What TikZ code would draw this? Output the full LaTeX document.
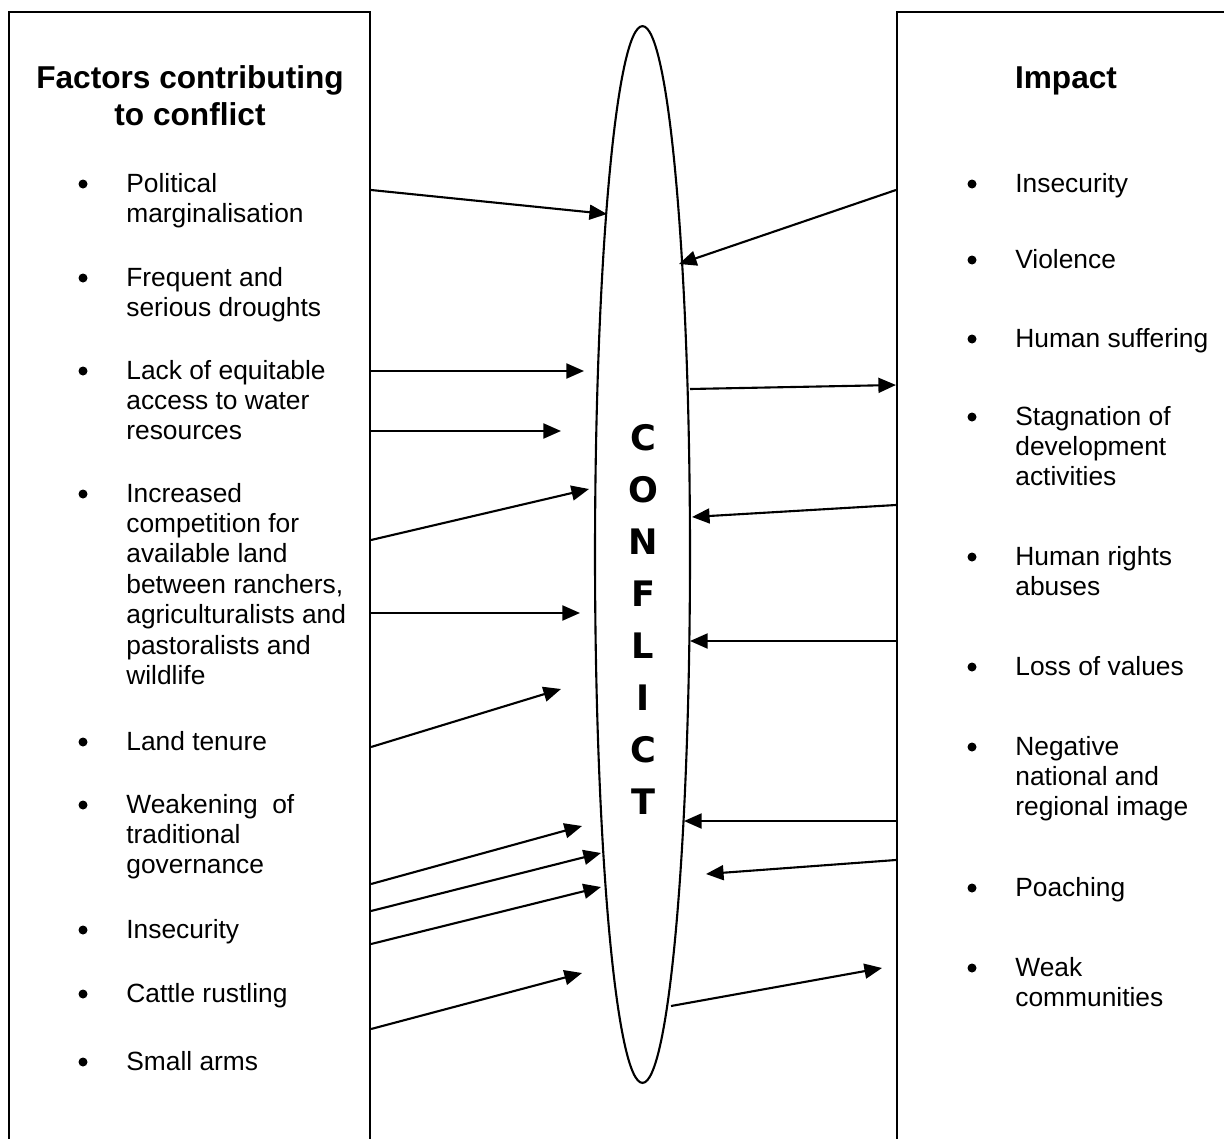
\documentclass[tikz,border=0pt]{standalone}
\usepackage{fontspec}
\setmainfont{Liberation Sans}
\newfontfamily\lettersfont{DejaVu Sans}
\usepackage{tikz}
\usetikzlibrary{shapes.geometric,arrows.meta,fit}

\tikzset{
  panel/.style={draw, line width=1.2pt, inner sep=0pt},
  head/.style={font=\fontsize{18}{21}\selectfont\bfseries, align=center, anchor=north, inner sep=0pt},
  item/.style={font=\fontsize{15}{17.3}\selectfont, align=left, anchor=north west, inner sep=0pt},
  arr/.style={line width=1.2pt, -{Triangle[length=10pt,width=8.5pt]}}
}

\begin{document}
\begin{tikzpicture}[x=0.02cm, y=-0.02cm]
             \useasboundingbox (0,0) rectangle (1224,1139);
             \clip (0,0) rectangle (1224,1139);

             % the two side panels, open past the page edge
             \node[panel, fit={(9,12) (370,1250)}] (factors) {};
             \node[panel, fit={(897,12) (1300,1250)}] (impact) {};

             \node[head] (factorshead) at (190,62) {\strut Factors contributing\\to conflict};
             \node[head] (impacthead) at (1066,62) {\strut Impact};

             % the middle
             \node[draw, ellipse, line width=1.2pt, inner sep=0pt,
                   minimum width=1.9cm, minimum height=21.14cm] (conflict) at (642.5,554.5) {};
             \node[font=\lettersfont\fontsize{20}{29.6}\selectfont\bfseries, align=center,
                   anchor=north, inner sep=0pt] (word) at (643,413.5)
                   {\strut C\\O\\N\\F\\L\\I\\C\\T};

             % left list
             \foreach \name/\yb/\txt in {
                pol/192/{Political\\marginalisation},
                drought/286/{Frequent and\\serious droughts},
                water/379/{Lack of equitable\\access to water\\resources},
                land/502/{Increased\\competition for\\available land\\between ranchers,\\agriculturalists and\\pastoralists and\\wildlife},
                tenure/750/{Land tenure},
                govern/813/{Weakening\ \ of\\traditional\\governance},
                insecl/938/{Insecurity},
                cattle/1002/{Cattle rustling},
                arms/1070/{Small arms}}{
               \node[item] (\name) at (126,\yb-21.5) {\strut\txt};
               \fill (83,\yb-8) circle[radius=4.5];
             }

             % right list
             \foreach \name/\yb/\txt in {
                insecr/192/{Insecurity},
                violence/268/{Violence},
                suffer/347/{Human suffering},
                stagn/425/{Stagnation of\\development\\activities},
                rights/565/{Human rights\\abuses},
                values/675/{Loss of values},
                image/755/{Negative\\national and\\regional image},
                poach/896/{Poaching},
                weak/976/{Weak\\communities}}{
               \node[item] (\name) at (1015,\yb-21.5) {\strut\txt};
               \fill (972,\yb-8) circle[radius=4.5];
             }

             % causes feeding the conflict
             \foreach \ys/\xt/\yt in {190/607/214, 371/584/371, 431/561/431, 540/589/489,
                                      613/580/613, 747/561/689, 884/582/826, 911/601/853,
                                      944/601/887, 1029/582/973}
               \draw[arr] (factors.east |- 0,\ys) -- (\xt,\yt);

             % impacts pointing back
             \foreach \ys/\xt/\yt in {190/679/264, 505/692/517, 641/690/641, 821/684/821, 860/706/874}
               \draw[arr] (impact.west |- 0,\ys) -- (\xt,\yt);
             \draw[arr] (690,389) -- (impact.west |- 0,385);
             \draw[arr] (671,1006) -- (882,968);
             \end{tikzpicture}
\end{document}
